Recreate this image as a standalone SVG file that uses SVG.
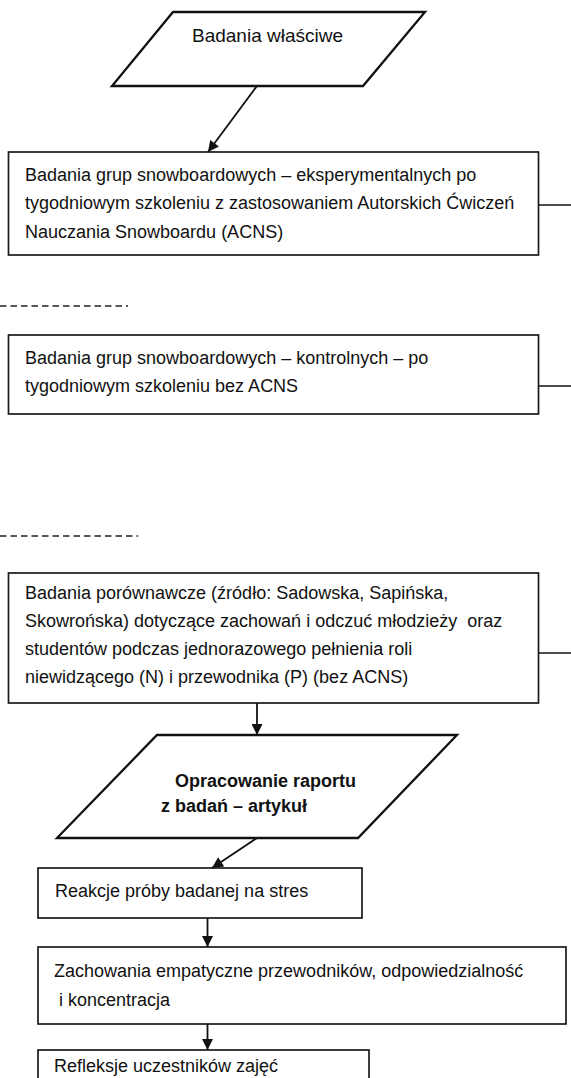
<svg xmlns="http://www.w3.org/2000/svg" width="571" height="1078" viewBox="0 0 571 1078">
<defs>
<style>
.box{fill:#fff;stroke:#1a1a1a;stroke-width:1.7}
.para{fill:#fff;stroke:#111;stroke-width:2.3;stroke-linejoin:miter}
.t{font-family:"Liberation Sans",Arial,sans-serif;font-size:18px;fill:#111}
.tb{font-family:"Liberation Sans",Arial,sans-serif;font-size:18px;font-weight:bold;fill:#111}
.tt{font-family:"Liberation Sans",Arial,sans-serif;font-size:19px;fill:#111}
.c{stroke:#111;stroke-width:1.6;fill:none}
.arr{stroke:#111;stroke-width:1.8;fill:none;marker-end:url(#ah)}
.dash{stroke:#222;stroke-width:1.3;stroke-dasharray:6.5 4;fill:none}
</style>
<marker id="ah" viewBox="0 0 10 10" refX="10" refY="5" markerWidth="13" markerHeight="11" markerUnits="userSpaceOnUse" orient="auto">
<path d="M0,0 L10,5 L0,10 z" fill="#111"/>
</marker>
</defs>
<rect width="571" height="1078" fill="#fff"/>

<g id="n-start">
<polygon class="para" points="173,12 425,12 363,86 112,86"/>
<text class="tt" x="192" y="42">Badania właściwe</text>
</g>

<g id="n-exp">
<rect class="box" x="8.5" y="152" width="530" height="103"/>
<text class="t" x="25" y="180.5">Badania grup snowboardowych – eksperymentalnych po</text>
<text class="t" x="25" y="209">tygodniowym szkoleniu z zastosowaniem Autorskich Ćwiczeń</text>
<text class="t" x="25" y="237.5">Nauczania Snowboardu (ACNS)</text>
</g>

<g id="n-ctrl">
<rect class="box" x="8.5" y="335" width="530" height="79"/>
<text class="t" x="25" y="364">Badania grup snowboardowych – kontrolnych – po</text>
<text class="t" x="25" y="392">tygodniowym szkoleniu bez ACNS</text>
</g>

<g id="n-comp">
<rect class="box" x="8.5" y="573" width="530" height="130"/>
<text class="t" x="25" y="599">Badania porównawcze (źródło: Sadowska, Sapińska,</text>
<text class="t" x="25" y="627" xml:space="preserve">Skowrońska) dotyczące zachowań i odczuć młodzieży  oraz</text>
<text class="t" x="25" y="655">studentów podczas jednorazowego pełnienia roli</text>
<text class="t" x="25" y="683">niewidzącego (N) i przewodnika (P) (bez ACNS)</text>
</g>

<g id="n-report">
<polygon class="para" points="157,735 457,735 358,838 57,838"/>
<text class="tb" x="175" y="787">Opracowanie raportu</text>
<text class="tb" x="161" y="812">z badań – artykuł</text>
</g>

<g id="n-stress">
<rect class="box" x="38" y="868" width="324" height="50"/>
<text class="t" x="55" y="897">Reakcje próby badanej na stres</text>
</g>

<g id="n-empathy">
<rect class="box" x="38" y="947" width="528" height="77"/>
<text class="t" x="54" y="977">Zachowania empatyczne przewodników, odpowiedzialność</text>
<text class="t" x="59" y="1006">i koncentracja</text>
</g>

<g id="n-reflect">
<rect class="box" x="38" y="1050" width="331" height="40"/>
<text class="t" x="54" y="1072">Refleksje uczestników zajęć</text>
</g>

<g id="connectors">
<line class="arr" x1="257" y1="86" x2="208" y2="152"/>
<line class="c" x1="538.5" y1="205" x2="571" y2="205"/>
<line class="dash" x1="0" y1="306" x2="128" y2="306"/>
<line class="c" x1="538.5" y1="386" x2="571" y2="386"/>
<line class="dash" x1="0" y1="536" x2="138" y2="536"/>
<line class="c" x1="538.5" y1="653" x2="571" y2="653"/>
<line class="arr" x1="257" y1="703" x2="257" y2="735"/>
<line class="arr" x1="257" y1="838" x2="212" y2="868"/>
<line class="arr" x1="207.5" y1="918" x2="207.5" y2="947"/>
<line class="arr" x1="207.5" y1="1024" x2="207.5" y2="1050"/>
</g>
</svg>
